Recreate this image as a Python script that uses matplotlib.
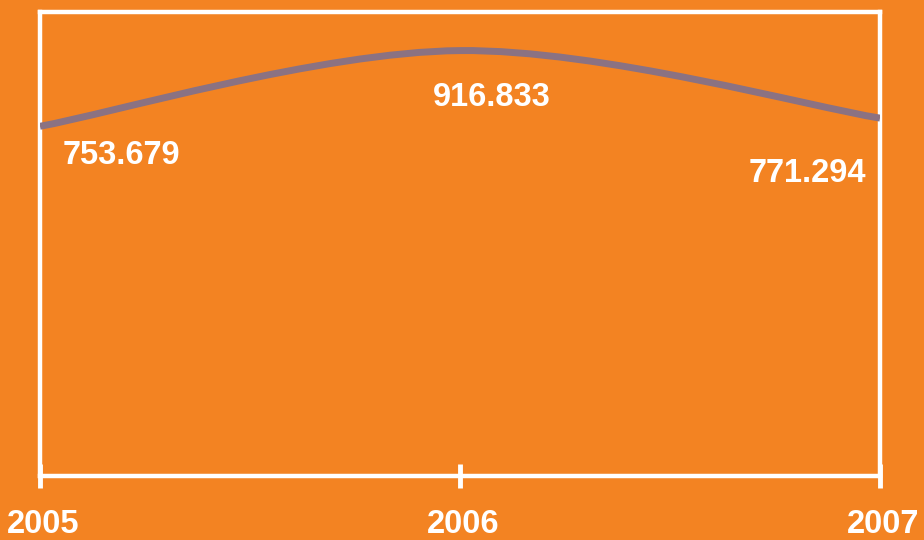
import matplotlib.pyplot as plt
import matplotlib.transforms as mtransforms
from matplotlib.path import Path
from matplotlib.patches import PathPatch

# data
years = [2005, 2006, 2007]
values = [753.679, 916.833, 771.294]
value_labels = ['753.679', '916.833', '771.294']

BG = '#F38322'
LINE = '#8B7282'
WHITE = 'white'

plt.rcParams['font.family'] = ['Liberation Sans', 'DejaVu Sans']

fig = plt.figure(figsize=(9.24, 5.4), dpi=100, facecolor=BG)
ax = fig.add_axes([40 / 924, 1 - 476 / 540, 840 / 924, 464 / 540])
ax.set_facecolor(BG)
ax.set_xlim(years[0], years[-1])
ax.set_ylim(0, 1000)


def smooth_path(xs, ys):
    # catmull-rom style cubic segments through the data points
    pts = list(zip(xs, ys))
    verts = [pts[0]]
    codes = [Path.MOVETO]
    n = len(pts)
    for i in range(n - 1):
        p0 = pts[i - 1] if i > 0 else pts[i]
        p1 = pts[i]
        p2 = pts[i + 1]
        p3 = pts[i + 2] if i + 2 < n else pts[i + 1]
        c1 = (p1[0] + (p2[0] - p0[0]) / 6, p1[1] + (p2[1] - p0[1]) / 6)
        c2 = (p2[0] - (p3[0] - p1[0]) / 6, p2[1] - (p3[1] - p1[1]) / 6)
        verts += [c1, c2, p2]
        codes += [Path.CURVE4] * 3
    return Path(verts, codes)


ax.add_patch(PathPatch(smooth_path(years, values), facecolor='none',
                       edgecolor=LINE, lw=5, capstyle='butt', zorder=3))

# value labels under the line
offsets = [(16, -21), (23, -34), (-10, -40)]
aligns = ['left', 'center', 'right']
for x, y, txt, off, ha in zip(years, values, value_labels, offsets, aligns):
    ax.annotate(txt, (x, y), xytext=off, textcoords='offset points',
                ha=ha, va='center', color=WHITE, fontsize=23.5,
                fontweight='bold')

for side in ['left', 'right', 'top', 'bottom']:
    ax.spines[side].set_color(WHITE)
    ax.spines[side].set_linewidth(3.2)

ax.set_xticks(years)
ax.set_xticklabels([str(y) for y in years])
ax.set_yticks([])
ax.tick_params(axis='x', direction='inout', length=17, width=3.5,
               color=WHITE, labelcolor=WHITE, labelsize=23.5, pad=15)
for lbl in ax.get_xticklabels():
    lbl.set_fontweight('bold')
    lbl.set_transform(lbl.get_transform() +
                      mtransforms.ScaledTranslation(3 / 100, 0, fig.dpi_scale_trans))

fig.savefig('out.png', dpi=100, facecolor=BG)
